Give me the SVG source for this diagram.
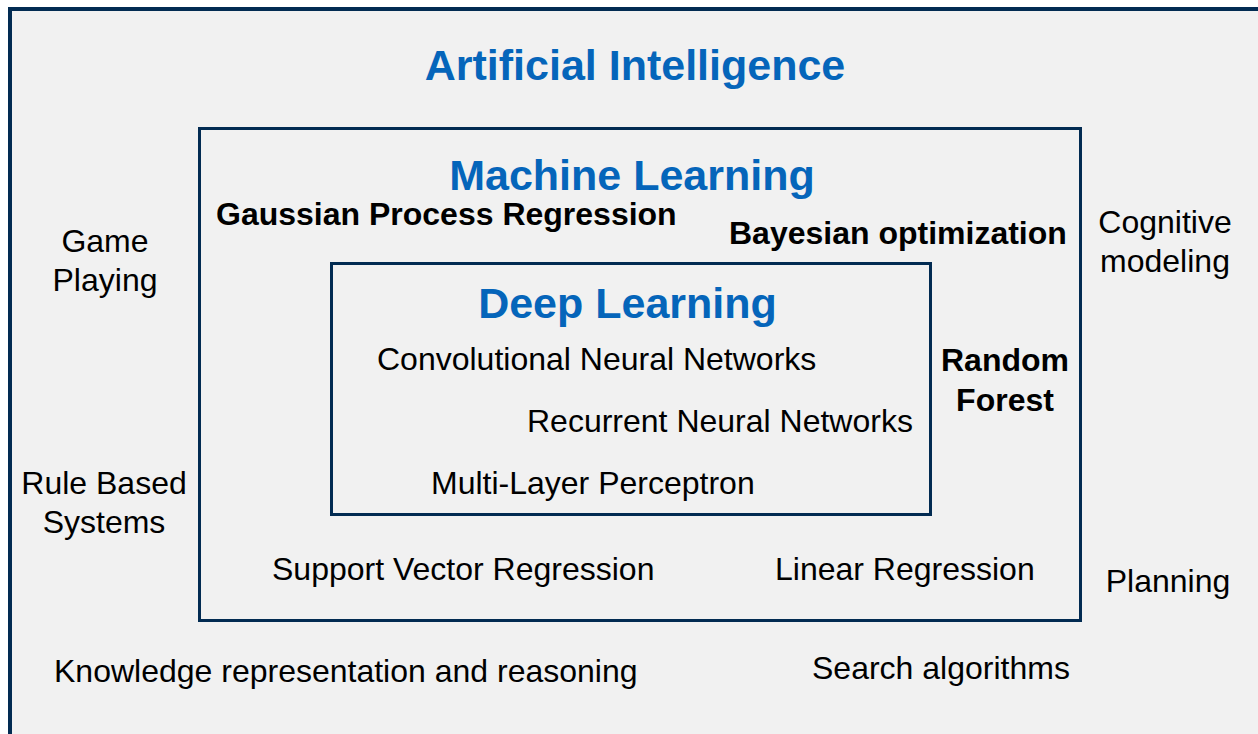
<svg xmlns="http://www.w3.org/2000/svg" width="1258" height="734" viewBox="0 0 1258 734">
<style>
.t{font-family:"Liberation Sans",Arial,sans-serif;font-size:32px;fill:#000}
.b{font-weight:bold}
.h{font-family:"Liberation Sans",Arial,sans-serif;font-size:43px;font-weight:bold;fill:#0565ba}
.box{fill:none;stroke:#022b52;stroke-width:3}
</style>
<rect x="0" y="0" width="1258" height="734" fill="#ffffff"/>
<rect x="10" y="9" width="1248" height="725" fill="#f1f1f1"/>
<g id="ai">
<path d="M10,734 V9 H1258" fill="none" stroke="#022b52" stroke-width="4"/>
<text class="h" x="635" y="80" text-anchor="middle">Artificial Intelligence</text>
<text class="t" x="105" y="252" text-anchor="middle">Game</text>
<text class="t" x="105" y="291" text-anchor="middle">Playing</text>
<text class="t" x="104" y="494" text-anchor="middle">Rule Based</text>
<text class="t" x="104" y="533" text-anchor="middle">Systems</text>
<text class="t" x="1165" y="233" text-anchor="middle">Cognitive</text>
<text class="t" x="1165" y="272" text-anchor="middle">modeling</text>
<text class="t" x="1168" y="592" text-anchor="middle">Planning</text>
<text class="t" x="54" y="682">Knowledge representation and reasoning</text>
<text class="t" x="812" y="679">Search algorithms</text>
</g>
<g id="ml">
<rect class="box" x="199.5" y="128.5" width="881" height="492"/>
<text class="h" x="632" y="190" text-anchor="middle">Machine Learning</text>
<text class="t b" x="216" y="225">Gaussian Process Regression</text>
<text class="t b" x="729" y="244">Bayesian optimization</text>
<text class="t b" x="1005" y="371" text-anchor="middle">Random</text>
<text class="t b" x="1005" y="411" text-anchor="middle">Forest</text>
<text class="t" x="272" y="580">Support Vector Regression</text>
<text class="t" x="775" y="580">Linear Regression</text>
</g>
<g id="dl">
<rect class="box" x="331.5" y="263.5" width="599" height="251"/>
<text class="h" x="627.5" y="318" text-anchor="middle">Deep Learning</text>
<text class="t" x="377" y="370">Convolutional Neural Networks</text>
<text class="t" x="527" y="432">Recurrent Neural Networks</text>
<text class="t" x="431" y="494">Multi-Layer Perceptron</text>
</g>
<g id="connectors"/>
</svg>
